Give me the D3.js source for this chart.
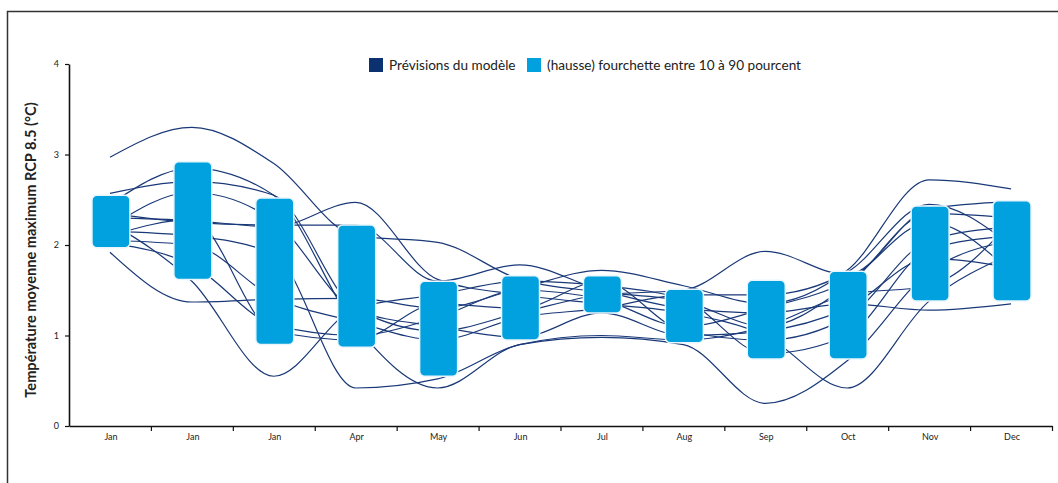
<!DOCTYPE html>
<html>
<head>
<meta charset="utf-8">
<script src="https://cdn.jsdelivr.net/npm/d3@7"></script>
<style>
  html, body { margin: 0; padding: 0; background: #fff; }
  svg { display: block; }
  text { font-family: "Lato", "Liberation Sans", sans-serif; fill: #222; }
</style>
</head>
<body>
<svg id="chart" width="1058" height="483"></svg>
<script>
// Month labels (the first three columns are all labelled "Jan")
const months = ["Jan", "Jan", "Jan", "Apr", "May", "Jun", "Jul", "Aug", "Sep", "Oct", "Nov", "Dec"];

// 10th–90th percentile range of the projected increase (°C)
const rangeLow  = [1.97, 1.62, 0.90, 0.87, 0.55, 0.95, 1.25, 0.92, 0.74, 0.74, 1.38, 1.38];
const rangeHigh = [2.55, 2.92, 2.52, 2.22, 1.60, 1.66, 1.66, 1.51, 1.61, 1.71, 2.43, 2.49];

// Individual model projections (°C), one value per column
const model01 = [2.97, 3.30, 2.90, 2.10, 2.03, 1.62, 1.48, 1.38, 1.10, 1.55, 2.35, 2.30];
const model02 = [1.92, 1.37, 1.40, 1.41, 1.30, 1.52, 1.72, 1.55, 1.35, 1.72, 2.72, 2.62];
const model03 = [2.57, 2.70, 2.55, 1.30, 1.05, 1.25, 1.45, 1.50, 1.93, 1.67, 2.40, 2.48];
const model04 = [2.45, 2.85, 2.55, 1.10, 0.42, 0.90, 0.98, 0.90, 0.25, 0.72, 1.70, 2.05];
const model05 = [2.30, 2.27, 2.20, 2.47, 1.62, 1.45, 1.35, 1.25, 1.00, 0.42, 1.38, 1.90];
const model06 = [2.35, 2.25, 2.22, 2.22, 1.60, 1.78, 1.50, 1.30, 1.25, 1.35, 1.28, 1.35];
const model07 = [2.10, 2.28, 1.05, 0.95, 1.35, 1.30, 1.60, 1.05, 0.95, 1.20, 2.05, 2.20];
const model08 = [2.02, 1.78, 1.12, 1.00, 1.20, 1.50, 1.40, 1.10, 1.30, 1.60, 2.25, 1.70];
const model09 = [2.25, 1.60, 0.55, 1.30, 1.45, 1.60, 1.55, 1.40, 0.80, 1.00, 1.95, 2.10];
const model10 = [2.05, 2.00, 1.42, 1.15, 0.95, 1.20, 1.30, 1.45, 1.45, 1.70, 2.45, 2.00];
const model11 = [2.20, 2.58, 2.27, 1.28, 1.10, 0.98, 1.25, 1.00, 1.05, 1.30, 1.85, 1.75];
const model12 = [2.15, 2.10, 1.90, 0.42, 0.52, 0.90, 1.00, 0.95, 1.10, 1.45, 1.55, 2.25];
const modelSeries = [model01, model02, model03, model04, model05, model06,
                     model07, model08, model09, model10, model11, model12];

const yTicks = [0, 1, 2, 3, 4];

const legendItems = [
  { label: "Prévisions du modèle", color: "#0b3170", offset: 0 },
  { label: "(hausse) fourchette entre 10 à 90 pourcent", color: "#00a1de", offset: 158 }
];

const svg = d3.select("#chart");
const plotLeft = 69, plotRight = 1052, plotTop = 64, plotBottom = 426;

// Outer frame (top and left edges)
svg.append("path")
  .attr("d", `M7.5,483 L7.5,11.5 L1058,11.5`)
  .attr("fill", "none")
  .attr("stroke", "#333")
  .attr("stroke-width", 1.5);

const x = d3.scaleBand().domain(d3.range(months.length)).range([plotLeft, plotRight]);
const xEdges = d3.scaleLinear().domain([0, months.length]).range([plotLeft, plotRight]);
const y = d3.scaleLinear().domain([0, 4]).range([plotBottom, plotTop]);

// Model lines
const line = d3.line()
  .x((d, i) => x(i) + x.bandwidth() / 2)
  .y(d => y(d))
  .curve(d3.curveMonotoneX);

svg.append("g")
  .selectAll("path")
  .data(modelSeries)
  .join("path")
  .attr("d", line)
  .attr("fill", "none")
  .attr("stroke", "#1a3978")
  .attr("stroke-width", 1.2);

// Percentile range boxes
const boxW = 38;
svg.append("g")
  .selectAll("rect")
  .data(months.map((m, i) => ({ i, lo: rangeLow[i], hi: rangeHigh[i] })))
  .join("rect")
  .attr("x", d => x(d.i) + x.bandwidth() / 2 - boxW / 2 + 1)
  .attr("y", d => y(d.hi))
  .attr("width", boxW)
  .attr("height", d => y(d.lo) - y(d.hi))
  .attr("rx", 5)
  .attr("fill", "#00a1de")
  .attr("stroke", "#e8f6fc")
  .attr("stroke-width", 1.5);

// Y axis
const yAxis = svg.append("g")
  .attr("transform", `translate(${plotLeft},0)`)
  .call(d3.axisLeft(y).tickValues(yTicks).tickFormat(d3.format("d")).tickSize(4).tickPadding(6).tickSizeOuter(0));
yAxis.select(".domain").attr("stroke", "#111").attr("stroke-width", 1.6);
yAxis.selectAll(".tick line").attr("stroke", "#111").attr("stroke-width", 1.2);
yAxis.selectAll(".tick text").attr("font-size", 9).attr("font-family", "Lato, sans-serif").attr("fill", "#222");

// X axis: tick marks on column boundaries, labels centred in columns
const xTickAxis = svg.append("g")
  .attr("transform", `translate(0,${plotBottom})`)
  .call(d3.axisBottom(xEdges).tickValues(d3.range(1, months.length + 1)).tickSize(5).tickFormat("").tickSizeOuter(0));
xTickAxis.select(".domain").attr("stroke", "#111").attr("stroke-width", 1.6);
xTickAxis.selectAll(".tick line").attr("stroke", "#111").attr("stroke-width", 1.2);

const xLabelAxis = svg.append("g")
  .attr("transform", `translate(1,${plotBottom})`)
  .call(d3.axisBottom(x).tickSize(0).tickPadding(8).tickFormat(i => months[i]));
xLabelAxis.select(".domain").remove();
xLabelAxis.selectAll(".tick text").attr("font-size", 9).attr("font-family", "Lato, sans-serif").attr("fill", "#222");

// Y axis title
svg.append("text")
  .attr("transform", `translate(36,250) rotate(-90)`)
  .attr("text-anchor", "middle")
  .attr("font-size", 14.6)
  .attr("font-weight", "bold")
  .attr("fill", "#111")
  .text("Température moyenne maximum RCP 8.5 (°C)");

// Legend
const legend = svg.append("g").attr("transform", "translate(369,58)");
legendItems.forEach((item) => {
  const g = legend.append("g").attr("transform", `translate(${item.offset},0)`);
  g.append("rect").attr("width", 14).attr("height", 14).attr("fill", item.color);
  g.append("text")
    .attr("x", 20).attr("y", 11.5)
    .attr("font-size", 13.6)
    .attr("fill", "#222")
    .text(item.label);
});
</script>
</body>
</html>
